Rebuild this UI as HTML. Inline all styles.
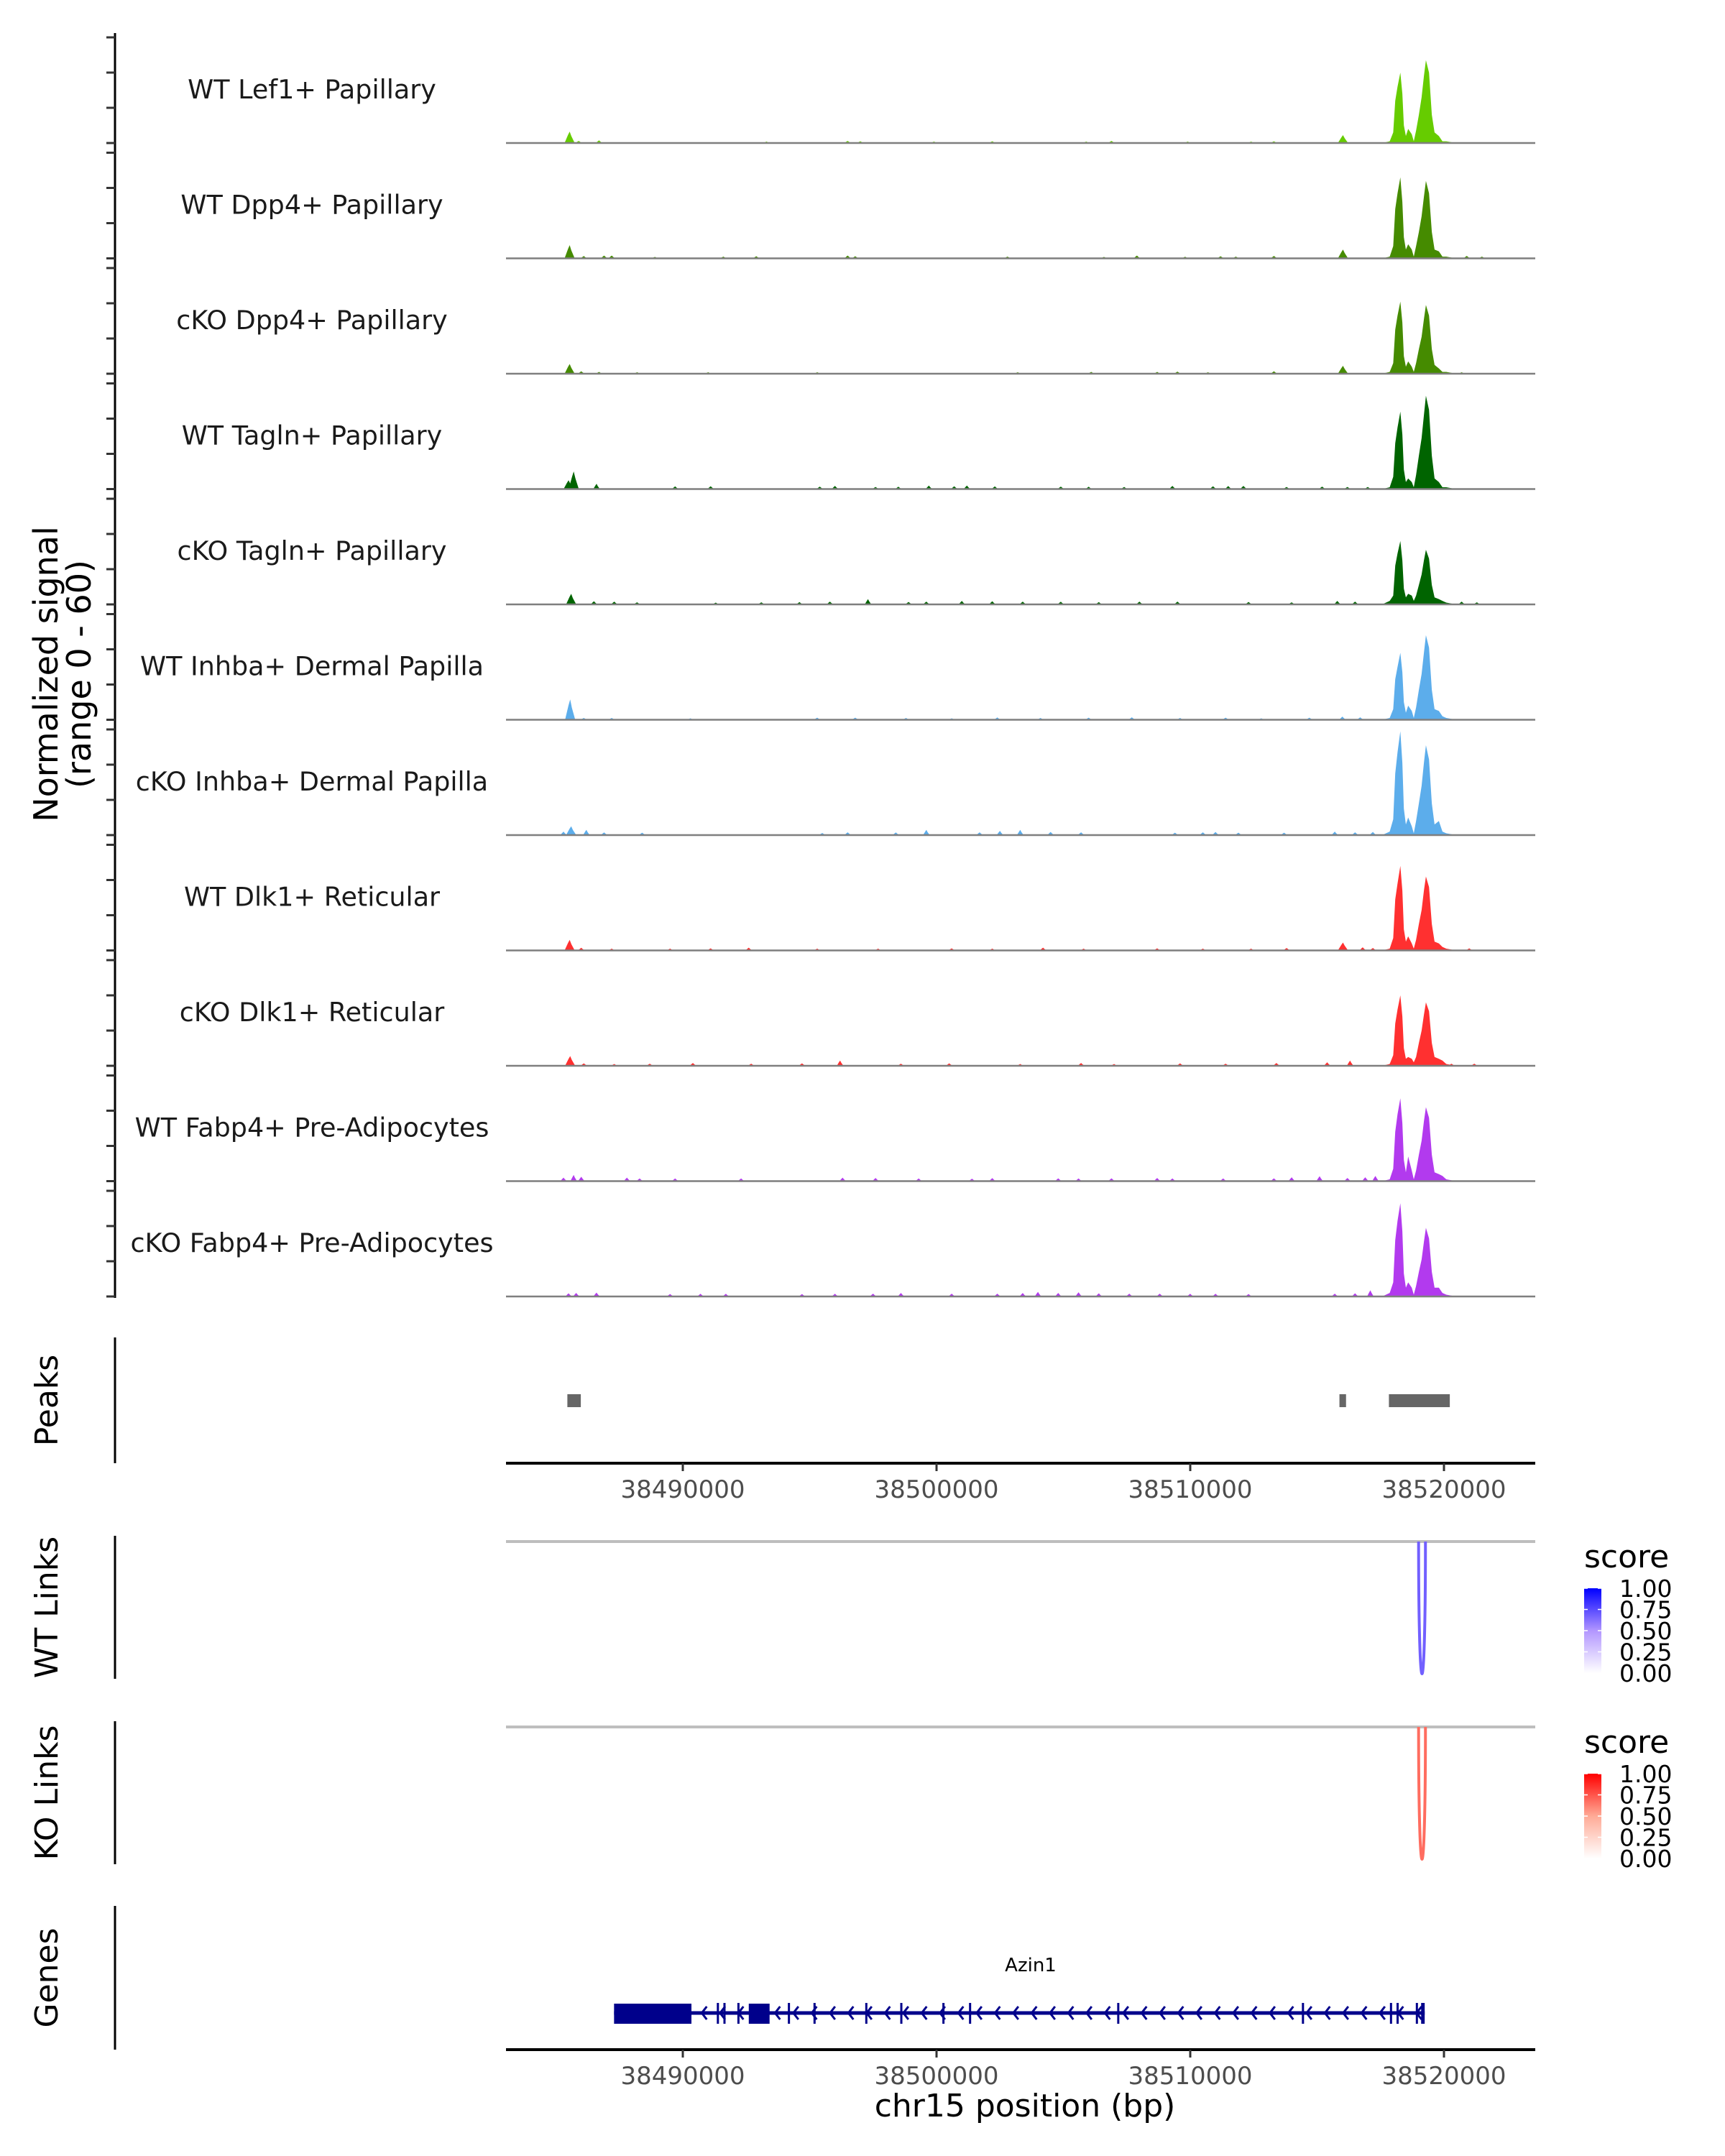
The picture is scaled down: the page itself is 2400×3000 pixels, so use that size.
<!DOCTYPE html>
<html><head><meta charset="utf-8"><style>
html,body{margin:0;padding:0;background:#fff;}
svg{display:block;}
text{font-family:"DejaVu Sans","Liberation Sans",sans-serif;}
</style></head><body>
<svg id="chart" xmlns="http://www.w3.org/2000/svg" width="2400" height="3000" viewBox="0 0 2400 3000">
<rect width="2400" height="3000" fill="#fff"/>
<g id="tracks"></g>
<g id="peaks"></g>
<g id="links"></g>
<g id="genes"></g>
<g id="axes"></g>
</svg>
<script>
// ---------- data ----------
const trackNames = ["WT Lef1+ Papillary","WT Dpp4+ Papillary","cKO Dpp4+ Papillary","WT Tagln+ Papillary","cKO Tagln+ Papillary","WT Inhba+ Dermal Papilla","cKO Inhba+ Dermal Papilla","WT Dlk1+ Reticular","cKO Dlk1+ Reticular","WT Fabp4+ Pre-Adipocytes","cKO Fabp4+ Pre-Adipocytes"];
const trackColors = ["#66cc00","#458b00","#458b00","#006400","#006400","#5cadeb","#5cadeb","#ff3030","#ff3030","#b23aee","#b23aee"];
const mainPos = [38517560,38517860,38518000,38518080,38518170,38518280,38518360,38518420,38518500,38518590,38518730,38518810,38518900,38519010,38519120,38519210,38519290,38519410,38519520,38519630,38519800,38519940,38520090,38520480];
const main1 = [0,1,6,24,32,40,28,10,4,8,5,1,7,16,26,38,47,40,16,6,4,1,1,0];
const main2 = [0,1,7,28,37,46,32,12,5,8,5,1,7,15,24,35,44,37,15,5,4,1,1,0];
const main3 = [0,1,6,25,33,41,29,10,4,7,4,1,6,14,21,31,39,33,14,5,3,1,1,0];
const main4 = [0,1,7,26,35,44,31,11,4,6,4,1,8,19,29,42,53,45,19,6,4,1,1,0];
const main5 = [0,2,5,22,29,36,25,9,4,6,5,2,5,11,17,25,31,26,11,4,3,2,1,0];
const main6 = [0,1,6,23,30,38,27,10,4,8,5,1,7,17,26,38,48,41,17,6,5,2,1,0];
const main7 = [0,2,9,35,47,59,41,15,6,10,5,1,8,18,28,41,51,43,18,6,8,2,1,0];
const main8 = [0,1,7,29,38,48,34,12,5,8,4,1,6,15,23,34,42,36,15,5,4,2,1,0];
const main9 = [0,1,6,24,32,40,28,10,4,5,4,2,5,13,20,29,36,31,13,5,4,3,1,0];
const main10 = [0,1,7,28,38,47,33,12,5,14,6,1,6,15,23,34,42,36,15,5,4,3,1,0];
const main11 = [0,2,8,32,43,53,37,13,5,8,5,1,6,14,21,31,39,33,14,5,5,2,1,0];
const mainVals = [main1,main2,main3,main4,main5,main6,main7,main8,main9,main10,main11];
// small peaks (bp, value)
const blipPos1 = [38485540,38485900,38486700,38493300,38496500,38497000,38499900,38502200,38505900,38506900,38509900,38512400,38513300,38516020];
const blipVal1 = [6.5,1.2,1.5,0.8,1.2,1,0.8,1,0.8,1.2,0.8,0.8,1,4.5];
const blipPos2 = [38485540,38486100,38486900,38487200,38488900,38491600,38492900,38496500,38496800,38502800,38506600,38507900,38509800,38511200,38511800,38513300,38516020,38520900,38521500];
const blipVal2 = [7.5,1.3,1.6,1.6,0.8,1,1.2,1.6,1.2,1,0.8,1.6,0.9,1.2,1,1.4,5,1.4,1];
const blipPos3 = [38485540,38486000,38486700,38488200,38491000,38495300,38503200,38506100,38508700,38509500,38510700,38513300,38516020,38520700];
const blipVal3 = [5.5,1.4,1,0.8,0.8,0.8,0.8,1,1,1.2,0.8,1.4,4.5,0.8];
const blipPos4 = [38485500,38485700,38486600,38489700,38491100,38495400,38496000,38497600,38498500,38499700,38500700,38501200,38502300,38504900,38506000,38507400,38509300,38510900,38511500,38512100,38513800,38515200,38516200,38517000];
const blipVal4 = [5,10,3,1.5,1.6,1.4,1.8,1.2,1.3,2,1.6,2,1.5,1.4,1.3,1.2,1.8,1.6,1.7,1.8,1.2,1.4,1.2,1.2];
const blipPos5 = [38485600,38486500,38487300,38488200,38491300,38493100,38494600,38495800,38497300,38498900,38499600,38501000,38502200,38503400,38504900,38506400,38508000,38509500,38512300,38514000,38515800,38516500,38520700,38521300];
const blipVal5 = [6,1.8,1.6,1.2,1,1.2,1.3,1.6,3,1.4,1.6,2,1.8,1.6,1.5,1.3,1.6,1.6,1.4,1.2,2,1.6,1.6,1.2];
const blipPos6 = [38485560,38486100,38487200,38490300,38495300,38496800,38498800,38500600,38502400,38504100,38506000,38507700,38509600,38511400,38512800,38514700,38516000,38516700];
const blipVal6 = [11.5,1,1,0.8,1.2,1.2,1,0.8,1.3,1,1.2,1.4,1,1.2,0.8,1.2,1.8,1.4];
const blipPos7 = [38485300,38485600,38486200,38486900,38488400,38495500,38496500,38498400,38499600,38501700,38502500,38503300,38504500,38505700,38509400,38510500,38511000,38511900,38513700,38515700,38516500,38517200];
const blipVal7 = [2,5,3,1.5,1.4,1.2,1.6,1.5,3,1.6,2.4,3,1.8,1.6,1.4,1.6,1.8,1.4,1.4,2,1.6,1.8];
const blipPos8 = [38485540,38486000,38487200,38489500,38491100,38492600,38495300,38497700,38500600,38502200,38504200,38505800,38508700,38510500,38512400,38513800,38516020,38516800,38517200,38521000];
const blipVal8 = [6,1.5,1,1,1.2,1.6,1,1,1.2,1,1.6,1,1.2,1,1,1.4,4.5,1.8,1.4,1.2];
const blipPos9 = [38485560,38486100,38487300,38488700,38490400,38492700,38494700,38496200,38498600,38500500,38503300,38505700,38507000,38509600,38511400,38513400,38515400,38516300,38520300,38521200];
const blipVal9 = [5.5,1.4,1,1.2,1.6,1.2,1.4,3,1.2,1.4,1,1.6,1,1.4,1.2,1.6,2,3,1.2,1.2];
const blipPos10 = [38485300,38485700,38486000,38487800,38488300,38489700,38492300,38496300,38497600,38499300,38501400,38502200,38504800,38505600,38506900,38508700,38509300,38511300,38513300,38514000,38515100,38516200,38516900,38517300];
const blipVal10 = [2,3.5,2.5,2,1.5,1.5,1.5,2,1.8,1.5,1.4,1.7,1.6,1.5,1.6,1.8,1.5,1.5,1.6,2.2,2.8,1.8,2.2,3];
const blipPos11 = [38485500,38485800,38486600,38489500,38490700,38491700,38494700,38496000,38497500,38498600,38500600,38502400,38503400,38504000,38504800,38505600,38506400,38507600,38508800,38510000,38511000,38512300,38515700,38516500,38517100];
const blipVal11 = [1.8,2,2.2,1.4,1.5,1.5,1.4,1.5,1.6,2,1.6,1.6,2,2.6,2,2.4,1.8,1.6,1.6,1.5,1.5,1.4,1.6,1.8,3.5];
const blipPosAll = [blipPos1,blipPos2,blipPos3,blipPos4,blipPos5,blipPos6,blipPos7,blipPos8,blipPos9,blipPos10,blipPos11];
const blipValAll = [blipVal1,blipVal2,blipVal3,blipVal4,blipVal5,blipVal6,blipVal7,blipVal8,blipVal9,blipVal10,blipVal11];
const peakStarts = [38485450,38515880,38517830];
const peakEnds = [38485980,38516140,38520230];
const linkStarts = [38519000];
const linkEnds = [38519270];
const wtScores = [0.68];
const koScores = [0.68];
const exonStarts = [38487290,38491340,38491600,38492150,38492600,38494140,38495150,38497190,38498570,38500230,38501280,38507120,38514400,38517870,38518130,38518890,38519100];
const exonEnds = [38490340,38491420,38491680,38492230,38493420,38494220,38495230,38497270,38498650,38500310,38501360,38507200,38514480,38517950,38518210,38518970,38519240];
const geneStart = 38487290, geneEnd = 38519240;
const xTicks = [38490000,38500000,38510000,38520000];
const xTickLabels = ["38490000","38500000","38510000","38520000"];
const yTickVals = [0,20,40,60];
const legendTicks = [1.00,0.75,0.50,0.25,0.00];
const legendLabels = ["1.00","0.75","0.50","0.25","0.00"];

// ---------- scales ----------
const NS = "http://www.w3.org/2000/svg";
const X0 = 704, X1 = 2136;
function xs(bp){ return 950 + (bp - 38490000) * 0.03530; }
function baseY(i){ return 199 + 160.5 * i; }
function ys(i, v){ return baseY(i) - v * 2.45; }
function mk(tag, attrs, parent){ const e = document.createElementNS(NS, tag); for (const k in attrs) e.setAttribute(k, attrs[k]); parent.appendChild(e); return e; }

const gT = document.getElementById('tracks');
const gA = document.getElementById('axes');

let ax = mk('line',{x1:160,y1:46,x2:160,y2:1806,stroke:'#000','stroke-width':3},gA);


for (let i=0;i<11;i++){
  for (const v of yTickVals){
    const t = mk('line',{x1:148,x2:160,y1:ys(i,v),y2:ys(i,v),stroke:'#333','stroke-width':3},gA);
    
    
  }
}
let yt = mk('text',{x:0,y:0,'font-size':46,'text-anchor':'middle',transform:'translate(80,938) rotate(-90)'},gA);
yt.textContent = 'Normalized signal';


let yt2 = mk('text',{x:0,y:0,'font-size':46,'text-anchor':'middle',transform:'translate(126,938) rotate(-90)'},gA);
yt2.textContent = '(range 0 - 60)';



for (let i=0;i<11;i++){
  const g = mk('g',{},gT);
  
  
  const b = baseY(i);
  const lab = mk('text',{x:434,y:b-62,'font-size':36.5,'text-anchor':'middle',fill:'#1a1a1a'},g);
  lab.textContent = trackNames[i];
  
  
  let d = 'M'+xs(mainPos[0]).toFixed(1)+','+b;
  mainPos.forEach((p,k)=>{ d += ' L'+xs(p).toFixed(1)+','+ys(i,mainVals[i][k]).toFixed(1); });
  d += ' L'+xs(mainPos[mainPos.length-1]).toFixed(1)+','+b+' Z';
  const a = mk('path',{d:d,fill:trackColors[i]},g);
  
  
  blipPosAll[i].forEach((p,k)=>{
    const v = blipValAll[i][k];
    const w = v > 4 ? 200 : 130;
    const pd = 'M'+xs(p-w).toFixed(1)+','+b+' L'+xs(p-w/3).toFixed(1)+','+ys(i,v*0.7).toFixed(1)+' L'+xs(p).toFixed(1)+','+ys(i,v).toFixed(1)+' L'+xs(p+w/3).toFixed(1)+','+ys(i,v*0.6).toFixed(1)+' L'+xs(p+w).toFixed(1)+','+b+' Z';
    const bl = mk('path',{d:pd,fill:trackColors[i]},g);
    
    
  });
  const bl = mk('line',{x1:X0,x2:X1,y1:b,y2:b,stroke:'#7f7f7f','stroke-width':2.5},g);
  
  
}

function xAxis(parent, y, name){
  const l = mk('line',{x1:X0,x2:X1,y1:y,y2:y,stroke:'#000','stroke-width':4},parent);
  
  
  xTicks.forEach((t,k)=>{
    const tk = mk('line',{x1:xs(t),x2:xs(t),y1:y,y2:y+11,stroke:'#333','stroke-width':3},parent);
    
    
    const tl = mk('text',{x:xs(t),y:y+48,'font-size':34,'text-anchor':'middle',fill:'#4d4d4d'},parent);
    tl.textContent = xTickLabels[k];
    
    
  });
}
function sideAxis(parent, y1, y2, title, name){
  const l = mk('line',{x1:160,x2:160,y1:y1,y2:y2,stroke:'#000','stroke-width':3},parent);
  
  
  const t = mk('text',{x:0,y:0,'font-size':44,'text-anchor':'middle',transform:'translate(80,'+((y1+y2)/2)+') rotate(-90)'},parent);
  t.textContent = title;
  
  
}

const gP = document.getElementById('peaks');
sideAxis(gP,1861,2036,'Peaks','peaks');
peakStarts.forEach((s,k)=>{
  const r = mk('rect',{x:xs(s),y:1940,width:xs(peakEnds[k])-xs(s),height:18,fill:'#666'},gP);
  
  
});
xAxis(gP,2036,'peaks-x-axis');

const gL = document.getElementById('links');
function mixCol(stops, sc){
  // stops: colours at 0,0.5,1
  const seg = sc < 0.5 ? 0 : 1, t = sc < 0.5 ? sc/0.5 : (sc-0.5)/0.5;
  const a = stops[seg], b = stops[seg+1];
  return 'rgb('+a.map((c,j)=>Math.round(c+(b[j]-c)*t)).join(',')+')';
}
function linkPanel(y1,y2,lineY,bottom,title,name,scores,stops){
  const g = mk('g',{},gL);
  
  
  sideAxis(g,y1,y2,title,name);
  const gl = mk('line',{x1:X0,x2:X1,y1:lineY,y2:lineY,stroke:'#bebebe','stroke-width':4},g);
  
  
  linkStarts.forEach((s,k)=>{
    const a = xs(s), b = xs(linkEnds[k]);
    const col = mixCol(stops, scores[k]);
    const ctrl = lineY + (bottom-lineY)/0.75;
    const p = mk('path',{d:'M'+a+','+lineY+' C'+a+','+ctrl+' '+b+','+ctrl+' '+b+','+lineY,fill:'none',stroke:col,'stroke-width':4},g);
    
    
  });
  const gid = 'grad-'+name;
  const defs = mk('defs',{},g);
  const lg = mk('linearGradient',{id:gid,x1:0,y1:1,x2:0,y2:0},defs);
  mk('stop',{offset:0,'stop-color':mixCol(stops,0)},lg);
  mk('stop',{offset:0.5,'stop-color':mixCol(stops,0.5)},lg);
  mk('stop',{offset:1,'stop-color':mixCol(stops,1)},lg);
  const top = lineY + 65, h = 118;
  const st = mk('text',{x:2204,y:lineY+36,'font-size':44},g);
  st.textContent = 'score';
  
  
  const cb = mk('rect',{x:2204,y:top,width:24,height:h,fill:'url(#'+gid+')'},g);
  
  
  legendTicks.forEach((v,k)=>{
    const yy = top + (1-v)*h;
    const tk = mk('line',{x1:2204,x2:2209,y1:yy,y2:yy,stroke:'#fff','stroke-width':1.5},g);
    
    
    const tk2 = mk('line',{x1:2223,x2:2228,y1:yy,y2:yy,stroke:'#fff','stroke-width':1.5},g);
    
    
    const tl = mk('text',{x:2253,y:yy+12,'font-size':33},g);
    tl.textContent = legendLabels[k];
    
    
  });
}
linkPanel(2137,2336,2145,2329,'WT Links','wt-links',wtScores,[[255,255,255],[178,150,255],[0,0,255]]);
linkPanel(2395,2594,2403,2587,'KO Links','ko-links',koScores,[[255,255,255],[255,170,150],[255,0,0]]);

const gG = document.getElementById('genes');
sideAxis(gG,2652,2852,'Genes','genes');
const gn = mk('text',{x:1434,y:2743,'font-size':26,'text-anchor':'middle'},gG);
gn.textContent = 'Azin1';


const gy = 2801, navy = '#00008b';
const gl = mk('line',{x1:xs(geneStart),x2:xs(geneEnd),y1:gy,y2:gy,stroke:navy,'stroke-width':5},gG);


for (let x = xs(geneStart)+125; x < xs(geneEnd)-8; x += 25.5){
  const ch = mk('polyline',{points:(x+4)+','+(gy-9)+' '+(x-3)+','+gy+' '+(x+4)+','+(gy+9),fill:'none',stroke:navy,'stroke-width':3},gG);
  
  
}
exonStarts.forEach((s,k)=>{
  const big = (exonEnds[k]-s) > 500;
  const r = mk('rect',{x:xs(s),y:big?2788:2787,width:Math.max(3,xs(exonEnds[k])-xs(s)),height:big?28:29,fill:navy},gG);
  
  
});
xAxis(gG,2852,'genes-x-axis');
const xt = mk('text',{x:1426,y:2945,'font-size':44,'text-anchor':'middle'},gG);
xt.textContent = 'chr15 position (bp)';


</script>
</body></html>
